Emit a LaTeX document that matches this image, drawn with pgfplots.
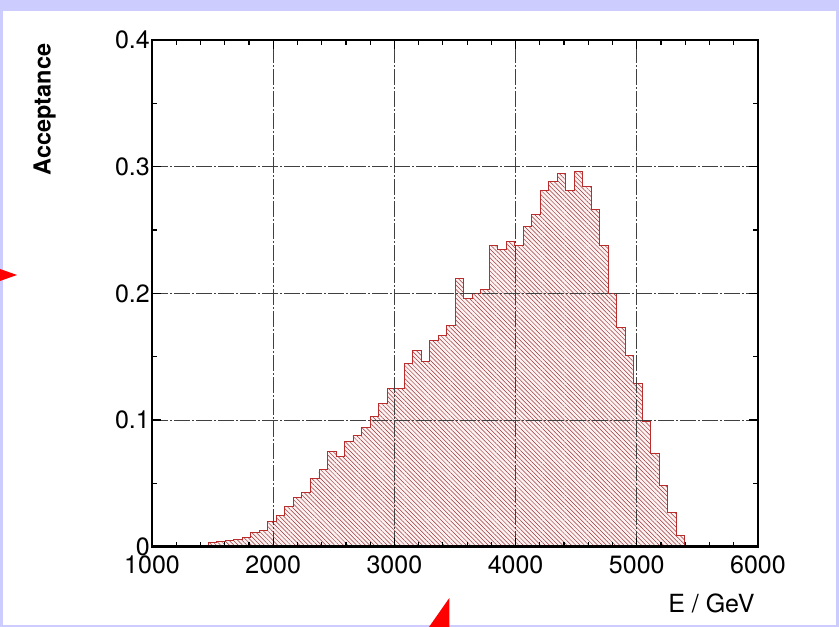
\documentclass[border=0pt]{standalone}
\usepackage{fontspec}
\setmainfont{TeX Gyre Heros}
\usepackage{pgfplots}
\pgfplotsset{compat=1.18}
\usetikzlibrary{patterns.meta}
\definecolor{slidebg}{RGB}{204,204,255}
\definecolor{histline}{RGB}{185,45,45}
\definecolor{hatchcol}{RGB}{150,55,55}
\pgfplotstableread{
x y
1465.0 0
1465.0 0.003
1535.2 0.004
1605.4 0.005
1675.6 0.006
1745.8 0.007
1816.0 0.011
1886.2 0.013
1956.4 0.020
2026.6 0.025
2096.8 0.032
2167.0 0.039
2237.2 0.043
2307.4 0.054
2377.6 0.061
2447.8 0.075
2518.0 0.071
2588.2 0.083
2658.4 0.088
2728.6 0.094
2798.8 0.103
2869.0 0.113
2939.2 0.125
3009.4 0.125
3079.6 0.145
3149.8 0.155
3220.0 0.146
3290.2 0.163
3360.4 0.167
3430.6 0.175
3500.8 0.212
3571.0 0.196
3641.2 0.200
3711.4 0.203
3781.6 0.238
3851.8 0.235
3922.0 0.241
3992.2 0.238
4062.4 0.253
4132.6 0.262
4202.8 0.281
4273.0 0.288
4343.2 0.295
4413.4 0.281
4483.6 0.296
4553.8 0.284
4624.0 0.266
4694.2 0.238
4764.4 0.200
4834.6 0.173
4904.8 0.151
4975.0 0.129
5045.2 0.099
5115.4 0.074
5185.6 0.048
5255.8 0.027
5326.0 0.009
5396.2 0
}\histdata
\begin{document}
\begin{tikzpicture}[x=1pt,y=1pt]
\useasboundingbox (0,0) rectangle (839,627);
\fill[slidebg] (0,0) rectangle (839,627);
\fill[white] (3,2) rectangle (836,616);
\fill[red] (0,346) -- (17,352) -- (0,358) -- cycle;
\fill[red] (429,0) -- (449.3,29) -- (449.3,0) -- cycle;
\begin{axis}[
  at={(152pt,80.3pt)}, anchor=south west,
  scale only axis, width=606pt, height=506.7pt,
  xmin=1000, xmax=6000, ymin=0, ymax=0.4,
  xtick={1000,2000,3000,4000,5000,6000},
  ytick={0,0.1,0.2,0.3,0.4},
  minor x tick num=4, minor y tick num=1,
  scaled x ticks=false, scaled y ticks=false,
  /pgf/number format/assume math mode=true,
  /pgf/number format/1000 sep={},
  tick label style={font=\fontsize{25}{29}\selectfont, black},
  xticklabel style={yshift=-8pt, inner sep=1pt},
  yticklabel style={xshift=-1pt, inner sep=1pt},
  major tick length=9pt, minor tick length=5pt,
  tick style={line width=1.2pt, black},
  axis line style={line width=2.4pt, black},
  grid=major,
  major grid style={black!75, line width=0.9pt, dash pattern=on 16pt off 2pt on 2pt off 2pt},
  axis on top,
  xlabel={E / GeV},
  xlabel style={at={(axis description cs:1,-0.129)}, anchor=base east, font=\fontsize{25}{29}\selectfont},
  ylabel={\bfseries Acceptance},
  ylabel style={at={(axis description cs:-0.177,1)}, anchor=east, font=\fontsize{23.5}{27}\selectfont},
]
\addplot[const plot, draw=histline, line width=0.9pt, fill=red!5,
  postaction={pattern={Lines[angle=-45, distance=3.1pt, line width=0.5pt]}, pattern color=hatchcol}]
  table[x=x, y=y] {\histdata};
\end{axis}
\end{tikzpicture}
\end{document}
